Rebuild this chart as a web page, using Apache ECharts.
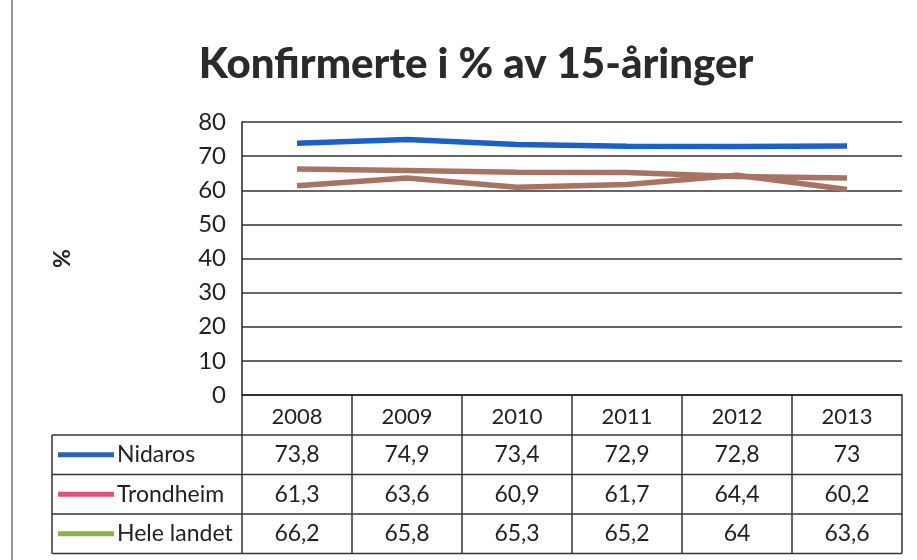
<!DOCTYPE html>
<html><head><meta charset="utf-8">
<script src="https://cdn.jsdelivr.net/npm/echarts@6/dist/echarts.min.js"></script>
<style>html,body{margin:0;padding:0;background:#fff}#c{width:917px;height:560px}</style>
</head><body><div id="c"></div>
<script>
const title = 'Konfirmerte i % av 15-åringer';
const years = ['2008','2009','2010','2011','2012','2013'];
const seriesNames = ['Nidaros','Trondheim','Hele landet'];
const nidaros = [73.8, 74.9, 73.4, 72.9, 72.8, 73];
const trondheim = [61.3, 63.6, 60.9, 61.7, 64.4, 60.2];
const heleLandet = [66.2, 65.8, 65.3, 65.2, 64, 63.6];
const yTicks = [0,10,20,30,40,50,60,70,80];

const FONT = 'Lato, "Open Sans", sans-serif';
const lineColors = ['#1b5fc9', '#a87364', '#a87364'];
const keyColors = ['#2a63b6', '#e2507c', '#8ab24c'];
const allData = [nidaros, trondheim, heleLandet];
const fmt = v => String(v).replace('.', ',');

const chart = echarts.init(document.getElementById('c'));
const gridL = 242, gridR = 15, gridT = 122, gridB = 165;
chart.setOption({
  animation: false,
  backgroundColor: '#fff',
  title: { text: title, left: 471, top: 38, textAlign: 'center',
    textStyle: { fontFamily: FONT, fontWeight: 900, fontSize: 42, color: '#2a2a2a' } },
  grid: { left: gridL, right: gridR, top: gridT, bottom: gridB },
  xAxis: { type: 'category', data: years, boundaryGap: true,
    axisLine: { lineStyle: { color: '#222', width: 1.5 } },
    axisTick: { show: false },
    axisLabel: { fontFamily: FONT, fontSize: 22, color: '#222', margin: 11 } },
  yAxis: { type: 'value', min: yTicks[0], max: yTicks[yTicks.length-1], interval: 10,
    name: '%', nameLocation: 'middle', nameGap: 168, nameRotate: 90,
    nameTextStyle: { fontFamily: FONT, fontSize: 23, fontWeight: 'bold', color: '#222' },
    axisLine: { show: true, lineStyle: { color: '#222', width: 1.5 } },
    axisTick: { show: false },
    splitLine: { lineStyle: { color: '#333', width: 1.5 } },
    axisLabel: { fontFamily: FONT, fontSize: 24, color: '#222', margin: 16 } },
  series: allData.map((d, i) => ({
    type: 'line', name: seriesNames[i], data: d, symbol: 'none',
    lineStyle: { color: lineColors[i], width: 5.5 }, z: 3 - i + 2
  }))
});

// Data table built from the arrays and the chart's own scale
const xs = years.map((y, i) => chart.convertToPixel({ xAxisIndex: 0 }, i));
const colW = xs.length > 1 ? xs[1] - xs[0] : 110;
const axisY = chart.convertToPixel({ yAxisIndex: 0 }, 0);
const headerBottom = axisY + 40;
const rowH = 39.5;
const tableLeft = 52;
const plotLeft = xs[0] - colW / 2;
const plotRight = xs[xs.length - 1] + colW / 2;
const tableBottom = headerBottom + rowH * allData.length;
const lineStyle = { stroke: '#333', lineWidth: 1.5 };
const g = [];
for (let i = 0; i <= years.length; i++) {
  const x = plotLeft + colW * i;
  g.push({ type: 'line', shape: { x1: x, y1: axisY, x2: x, y2: tableBottom }, style: lineStyle });
}
g.push({ type: 'line', shape: { x1: tableLeft, y1: headerBottom, x2: tableLeft, y2: tableBottom }, style: lineStyle });
for (let r = 0; r <= allData.length; r++) {
  const y = headerBottom + rowH * r;
  g.push({ type: 'line', shape: { x1: tableLeft, y1: y, x2: plotRight, y2: y }, style: lineStyle });
}
allData.forEach((d, r) => {
  const cy = headerBottom + rowH * r + rowH / 2;
  g.push({ type: 'line', shape: { x1: tableLeft + 6, y1: cy, x2: tableLeft + 62, y2: cy },
    style: { stroke: keyColors[r], lineWidth: 5 } });
  g.push({ type: 'text', x: tableLeft + 65, y: cy,
    style: { text: seriesNames[r], fontFamily: FONT, fontSize: 23, fill: '#222', verticalAlign: 'middle', align: 'left' } });
  d.forEach((v, i) => {
    g.push({ type: 'text', x: xs[i], y: cy,
      style: { text: fmt(v), fontFamily: FONT, fontSize: 23, fill: '#222', align: 'center', verticalAlign: 'middle' } });
  });
});
g.push({ type: 'line', shape: { x1: 12, y1: 0, x2: 12, y2: 560 }, style: { stroke: '#999', lineWidth: 2 } });
chart.setOption({ graphic: g });
</script></body></html>
